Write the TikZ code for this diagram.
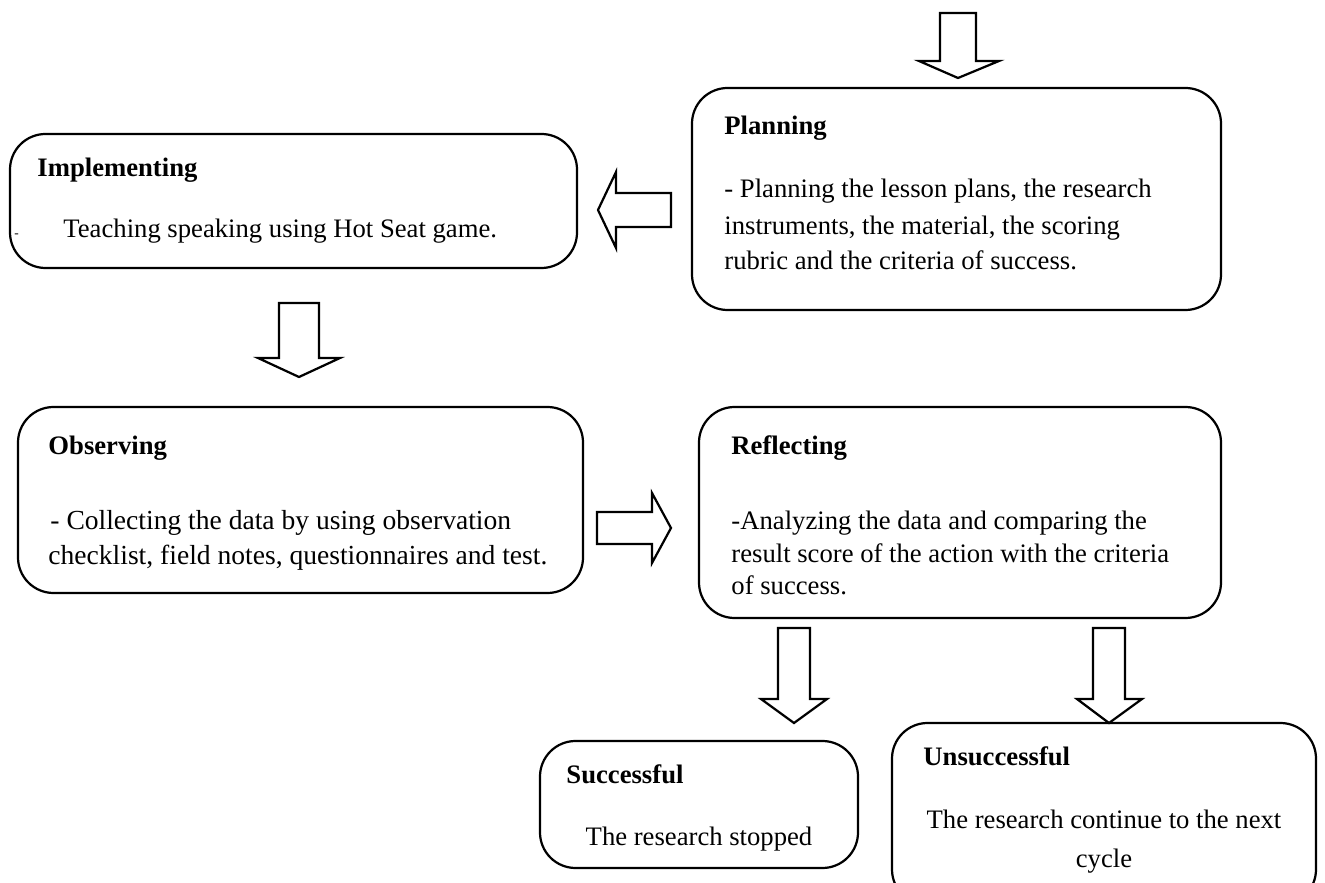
\documentclass[tikz,border=0pt]{standalone}
\usepackage{fontspec}
\setmainfont{Liberation Serif}
\usetikzlibrary{fit}
\begin{document}
\begin{tikzpicture}[x=0.45pt,y=-0.45pt,
  box/.style={draw=black, line width=1pt, rounded corners=16pt, inner sep=0pt},
  hd/.style={font=\bfseries\fontsize{12}{14}\selectfont, anchor=base west, inner sep=0pt},
  txt/.style={font=\fontsize{12}{14}\selectfont, anchor=base west, inner sep=0pt},
  bigtxt/.style={font=\fontsize{12.4}{14}\selectfont, anchor=base west, inner sep=0pt},
  ctxt/.style={font=\fontsize{12}{14}\selectfont, anchor=base, inner sep=0pt},
  blockarrow/.style={draw=black, line width=1pt, fill=white, line join=miter}]
\useasboundingbox (0,0) rectangle (1325,883);
\clip (0,0) rectangle (1325,883);

% boxes
\node[box, fit={(692,88) (1221,310)}] (plan) {};
\node[box, fit={(10,134) (577,268)}] (impl) {};
\node[box, fit={(18,407) (583,593)}] (obs) {};
\node[box, fit={(699,407) (1221,618)}] (refl) {};
\node[box, fit={(540,741) (858,868)}] (succ) {};
\node[box, fit={(892,723) (1316,905)}] (unsucc) {};

% texts
\node[hd] (planH) at (724,135) {Planning};
\node[txt] (planL1) at (724,198) {- Planning the lesson plans, the research};
\node[txt] (planL2) at (724,235) {instruments, the material, the scoring};
\node[txt] (planL3) at (724,270) {rubric and the criteria of success.};

\node[hd] (implH) at (37,177) {Implementing};
\node[txt, font=\fontsize{6}{7}\selectfont] (implD) at (14,238) {-};
\node[txt] (implL1) at (63,238) {Teaching speaking using Hot Seat game.};

\node[hd] (obsH) at (48,455) {Observing};
\node[bigtxt] (obsL1) at (50,530) {- Collecting the data by using observation};
\node[bigtxt] (obsL2) at (48,565) {checklist, field notes, questionnaires and test.};

\node[hd] (reflH) at (731,455) {Reflecting};
\node[txt] (reflL1) at (731,530) {-Analyzing the data and comparing the};
\node[txt] (reflL2) at (731,563) {result score of the action with the criteria};
\node[txt] (reflL3) at (731,595) {of success.};

\node[hd] (succH) at (566,783) {Successful};
\node[ctxt] (succL1) at (699,845) {The research stopped};

\node[hd] (unsuccH) at (923,765) {Unsuccessful};
\node[ctxt] (unsuccL1) at (1104,828) {The research continue to the next};
\node[ctxt] (unsuccL2) at (1104,867) {cycle};

% block arrows
\draw[blockarrow] (940,13) -- (976,13) -- (976,61) -- (999,61) -- (958,78) -- (919,61) -- (940,61) -- cycle;
\draw[blockarrow] (671,193) -- (671,227) -- (616,227) -- (616,248) -- (598,210) -- (616,172) -- (616,193) -- cycle;
\draw[blockarrow] (279,303) -- (319,303) -- (319,358) -- (340,358) -- (299,377) -- (258,358) -- (279,358) -- cycle;
\draw[blockarrow] (597,512) -- (652,512) -- (652,493) -- (671,528) -- (652,563) -- (652,544) -- (597,544) -- cycle;
\draw[blockarrow] (778,628) -- (810,628) -- (810,699) -- (827,699) -- (794,723) -- (761,699) -- (778,699) -- cycle;
\draw[blockarrow] (1093,628) -- (1125,628) -- (1125,699) -- (1142,699) -- (1109,723) -- (1077,699) -- (1093,699) -- cycle;
\end{tikzpicture}
\end{document}
